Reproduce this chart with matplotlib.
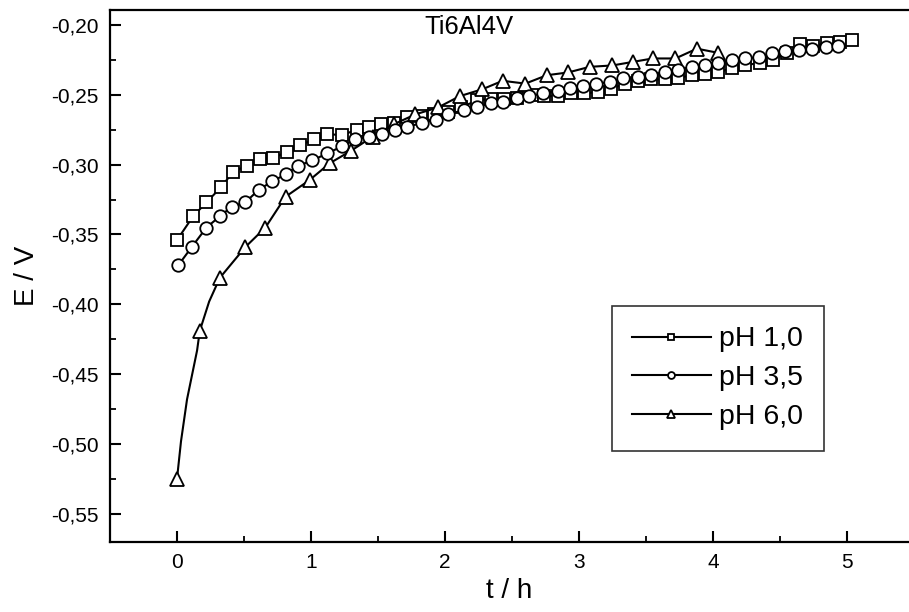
import matplotlib
matplotlib.use("Agg")
import matplotlib.pyplot as plt
from matplotlib.ticker import MultipleLocator, FuncFormatter

plt.rcParams['font.family'] = ['Liberation Sans', 'DejaVu Sans']

# pH 1,0 (squares)
t_ph10 = [0.00, 0.12, 0.22, 0.33, 0.42, 0.52, 0.62, 0.72, 0.82, 0.92,
          1.02, 1.12, 1.23, 1.34, 1.43, 1.52, 1.62, 1.72, 1.82, 1.92,
          2.02, 2.12, 2.24, 2.34, 2.44, 2.54, 2.65, 2.74, 2.84, 2.94,
          3.04, 3.14, 3.24, 3.34, 3.44, 3.54, 3.64, 3.74, 3.84, 3.94,
          4.04, 4.14, 4.24, 4.35, 4.45, 4.55, 4.65, 4.75, 4.85, 4.95, 5.04]
e_ph10 = [-0.354, -0.337, -0.327, -0.316, -0.305, -0.301, -0.296, -0.295, -0.291, -0.286,
          -0.282, -0.278, -0.279, -0.275, -0.273, -0.271, -0.270, -0.266, -0.265, -0.264,
          -0.262, -0.259, -0.254, -0.253, -0.253, -0.252, -0.250, -0.251, -0.251, -0.249,
          -0.249, -0.248, -0.246, -0.242, -0.240, -0.239, -0.239, -0.238, -0.236, -0.235,
          -0.234, -0.231, -0.229, -0.227, -0.225, -0.220, -0.214, -0.215, -0.213, -0.212, -0.211]

# pH 3,5 (circles)
t_ph35 = [0.01, 0.11, 0.22, 0.32, 0.41, 0.51, 0.61, 0.71, 0.81, 0.90,
          1.01, 1.12, 1.23, 1.33, 1.43, 1.53, 1.63, 1.72, 1.83, 1.93,
          2.02, 2.14, 2.24, 2.34, 2.43, 2.54, 2.63, 2.73, 2.84, 2.93,
          3.03, 3.13, 3.23, 3.33, 3.44, 3.54, 3.64, 3.74, 3.84, 3.94,
          4.04, 4.14, 4.24, 4.34, 4.44, 4.54, 4.64, 4.74, 4.84, 4.93]
e_ph35 = [-0.372, -0.359, -0.345, -0.337, -0.330, -0.327, -0.318, -0.312, -0.307, -0.301,
          -0.297, -0.292, -0.287, -0.282, -0.280, -0.278, -0.275, -0.273, -0.270, -0.268,
          -0.264, -0.261, -0.259, -0.256, -0.255, -0.252, -0.251, -0.249, -0.247, -0.245,
          -0.244, -0.242, -0.241, -0.238, -0.237, -0.236, -0.234, -0.232, -0.230, -0.229,
          -0.227, -0.225, -0.224, -0.223, -0.220, -0.219, -0.218, -0.217, -0.216, -0.215]

# pH 6,0 (triangles) - measured curve, markers on a subset of points
t_ph60 = [0.00, 0.03, 0.075, 0.15, 0.17, 0.24, 0.32, 0.51, 0.66, 0.81, 0.99, 1.14, 1.30, 1.46,
          1.62, 1.78, 1.95, 2.11, 2.28, 2.43, 2.60, 2.76, 2.92, 3.08,
          3.25, 3.40, 3.55, 3.72, 3.88, 4.04]
e_ph60 = [-0.525, -0.498, -0.468, -0.433, -0.419, -0.398, -0.381, -0.359, -0.345, -0.323,
          -0.311, -0.299, -0.290, -0.280,
          -0.271, -0.264, -0.259, -0.251, -0.246, -0.240, -0.242, -0.236, -0.234, -0.230,
          -0.229, -0.2265, -0.224, -0.224, -0.217, -0.220]
ph60_marked = [0, 4, 6, 7, 8, 9, 10, 11, 12, 13, 14, 15, 16, 17, 18, 19, 20, 21, 22, 23,
               24, 25, 26, 27, 28, 29]

labels = ['pH 1,0', 'pH 3,5', 'pH 6,0']
title_text = 'Ti6Al4V'

fig = plt.figure(figsize=(9.09, 6.12), dpi=100)
ax = fig.add_axes([0.121, 0.1144, 0.879, 0.8693])

common = dict(color='black', lw=1.5, mfc='white', mec='black', mew=1.3)
ax.plot(t_ph60, e_ph60, marker='^', ms=10, markevery=ph60_marked, label=labels[2], zorder=3, **common)
ax.plot(t_ph35, e_ph35, marker='o', ms=9, label=labels[1], zorder=4, **common)
ax.plot(t_ph10, e_ph10, marker='s', ms=9, label=labels[0], zorder=2, **common)

ax.set_xlim(-0.5, 5.463)
ax.set_ylim(-0.5701, -0.1893)

ax.xaxis.set_major_locator(MultipleLocator(1))
ax.xaxis.set_minor_locator(MultipleLocator(0.5))
ax.yaxis.set_major_locator(MultipleLocator(0.05))
ax.yaxis.set_minor_locator(MultipleLocator(0.025))
ax.yaxis.set_major_formatter(FuncFormatter(lambda v, p: f"{v:.2f}".replace('.', ',')))

ax.tick_params(which='major', direction='in', length=8, width=1.5, labelsize=15, pad=8)
ax.tick_params(which='minor', direction='in', length=4.5, width=1.3)
ax.tick_params(top=False, right=False)
for s in ['left', 'bottom', 'top']:
    ax.spines[s].set_linewidth(1.6)
ax.spines['right'].set_visible(False)

ax.set_xlabel('t / h', fontsize=20, labelpad=4)
ax.set_ylabel('E / V', fontsize=20, labelpad=8)
ax.text(2.18, -0.2015, title_text, fontsize=18.5, ha='center', va='center')

handles, labs = ax.get_legend_handles_labels()
order = [2, 1, 0]
leg = ax.legend([handles[i] for i in order], [labs[i] for i in order],
                loc='upper left', bbox_to_anchor=(0.628, 0.4436), borderaxespad=0,
                fontsize=20.5, handlelength=2.75, markerscale=0.55,
                frameon=True, fancybox=False, edgecolor='black',
                borderpad=0.72, labelspacing=0.45, handletextpad=0.3)
leg.get_frame().set_linewidth(1.2)

fig.savefig('out.png', dpi=100)
